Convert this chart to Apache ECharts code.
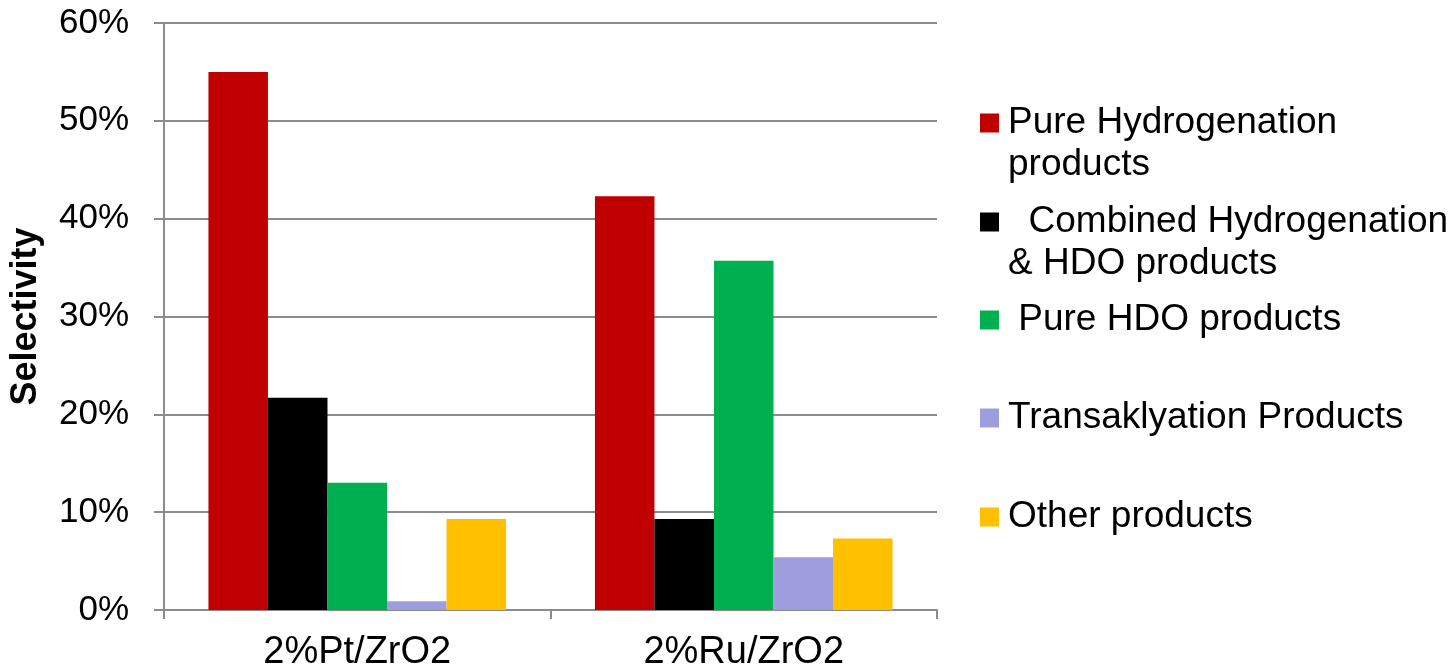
<!DOCTYPE html>
<html>
<head>
<meta charset="utf-8">
<script src="https://cdn.jsdelivr.net/npm/echarts@6/dist/echarts.min.js"></script>
<style>
  html, body { margin: 0; padding: 0; background: #ffffff; }
  #chart { width: 1455px; height: 672px; }
</style>
</head>
<body>
<div id="chart"></div>
<script>
// Catalysts on the category axis
const catalysts = ['2%Pt/ZrO2', '2%Ru/ZrO2'];

// Product families (series names) and the text shown for each in the legend
const productNames = [
  'Pure Hydrogenation products',
  'Combined Hydrogenation & HDO products',
  'Pure HDO products',
  'Transaklyation Products',
  'Other products'
];
const legendTexts = [
  '\nPure Hydrogenation\nproducts',
  '\n  Combined Hydrogenation\n& HDO products',
  ' Pure HDO products',
  'Transaklyation Products',
  'Other products'
];

// Selectivity (%) per catalyst for each product family
const pureHydrogenation = [55.0, 42.3];
const combinedHydroHDO = [21.7, 9.3];
const pureHDO = [13.0, 35.7];
const transalkylation = [0.9, 5.4];
const otherProducts = [9.3, 7.3];

const seriesValues = [pureHydrogenation, combinedHydroHDO, pureHDO, transalkylation, otherProducts];
const seriesColors = ['#C00000', '#000000', '#00B050', '#9E9EDE', '#FFC000'];

const FONT = '"Liberation Sans", Arial, sans-serif';
const GRID_GREY = '#8C8C8C';

const chart = echarts.init(document.getElementById('chart'), null, { renderer: 'canvas' });

// One legend block per product so each entry can sit at its own height
const legendTops = [60, 159, 299, 397, 496];
const legends = productNames.map((name, i) => ({
  data: [name],
  orient: 'vertical',
  left: 980,
  top: legendTops[i],
  padding: 0,
  icon: 'rect',
  itemWidth: 19,
  itemHeight: 19,
  selectedMode: false,
  formatter: () => legendTexts[i],
  textStyle: {
    fontFamily: FONT,
    fontSize: 37,
    lineHeight: 42,
    color: '#000000',
    padding: [0, 0, 0, 4]
  }
}));

const series = productNames.map((name, i) => ({
  name: name,
  type: 'bar',
  data: seriesValues[i],
  barGap: '0%',
  barCategoryGap: '23%',
  itemStyle: { color: seriesColors[i] },
  emphasis: { disabled: true }
}));

chart.setOption({
  animation: false,
  backgroundColor: '#ffffff',
  grid: { left: 164, right: 518, top: 23, bottom: 61, containLabel: false },
  legend: legends,
  xAxis: {
    type: 'category',
    data: catalysts,
    axisLine: { show: true, lineStyle: { color: GRID_GREY, width: 2 } },
    axisTick: { show: true, alignWithLabel: false, length: 9, lineStyle: { color: GRID_GREY, width: 2 } },
    axisLabel: { fontFamily: FONT, fontSize: 38, color: '#000000', margin: 24 },
    splitLine: { show: false }
  },
  yAxis: {
    type: 'value',
    min: 0,
    max: 60,
    interval: 10,
    name: 'Selectivity',
    nameLocation: 'middle',
    nameRotate: 90,
    nameGap: 120,
    nameTextStyle: { fontFamily: FONT, fontSize: 36, fontWeight: 'bold', color: '#000000' },
    axisLine: { show: true, lineStyle: { color: GRID_GREY, width: 2 } },
    axisTick: { show: true, length: 10, lineStyle: { color: GRID_GREY, width: 2 } },
    axisLabel: { fontFamily: FONT, fontSize: 35, color: '#000000', margin: 35, formatter: '{value}%' },
    splitLine: { show: true, lineStyle: { color: GRID_GREY, width: 2 } }
  },
  series: series
});
</script>
</body>
</html>
